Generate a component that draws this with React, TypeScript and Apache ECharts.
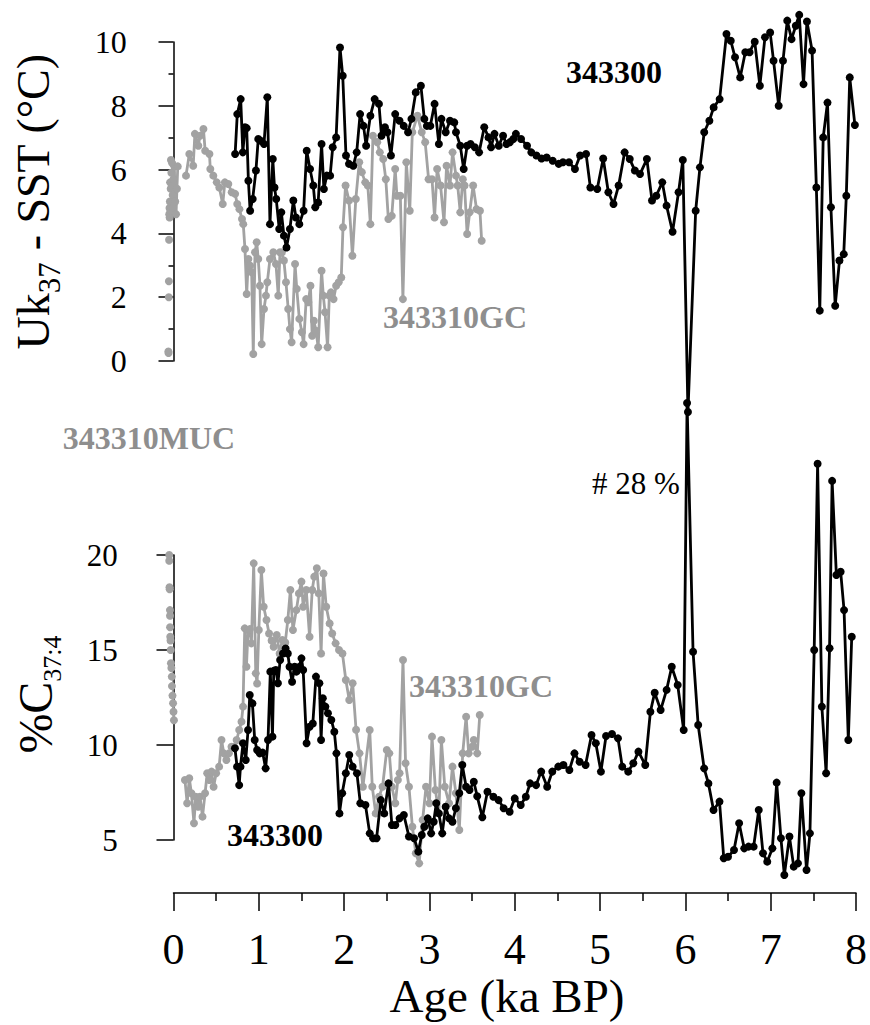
import React, { useEffect, useRef } from 'react';
import * as echarts from 'echarts';

const FONT = '"Liberation Serif", "Times New Roman", Times, serif';
const BLACK = '#000000';
const GRAY = '#a2a2a2';
const GRAY_TEXT = '#8e8e8e';

// Age (ka BP), value pairs
const sst343300: number[][] = [
  [0.72,6.49],[0.745,7.74],[0.785,8.21],[0.81,6.54],[0.835,7.33],[0.855,7.3],[0.875,5.65],[0.895,4.71],[0.925,5.08],[0.963,5.97],
  [0.99,6.96],[1.02,6.9],[1.057,6.8],[1.096,8.27],[1.127,4.29],[1.16,6.33],[1.18,5.44],[1.2,5.08],[1.235,4.14],[1.26,4.66],
  [1.29,3.93],[1.32,3.56],[1.36,4.14],[1.4,5.03],[1.43,4.5],[1.47,4.29],[1.52,4.71],[1.556,6.59],[1.595,6.02],[1.633,5.5],
  [1.656,4.82],[1.69,4.97],[1.73,6.8],[1.757,5.39],[1.79,5.81],[1.83,5.81],[1.86,6.7],[1.9,7.01],[1.945,9.83],[1.977,8.94],
  [2.015,6.44],[2.05,6.18],[2.1,6.12],[2.14,6.54],[2.18,7.74],[2.22,7.37],[2.25,6.75],[2.3,7.69],[2.35,8.21],[2.4,8.06],
  [2.43,7.06],[2.47,7.33],[2.5,7.17],[2.54,6.44],[2.59,7.74],[2.64,7.53],[2.69,7.37],[2.74,7.17],[2.78,7.59],[2.83,8.42],
  [2.89,8.63],[2.93,7.59],[2.96,7.37],[3.0,7.37],[3.05,8.06],[3.1,6.8],[3.13,7.59],[3.18,7.17],[3.23,7.53],[3.28,7.48],
  [3.3,7.17],[3.35,6.75],[3.39,6.02],[3.43,6.75],[3.47,6.8],[3.52,6.7],[3.57,6.54],[3.63,7.33],[3.68,7.01],[3.71,6.7],
  [3.75,7.12],[3.8,6.75],[3.85,7.06],[3.89,6.8],[3.93,6.86],[3.97,6.96],[4.0,7.12],[4.06,6.96],[4.13,6.75],[4.18,6.54],
  [4.24,6.44],[4.3,6.35],[4.36,6.38],[4.43,6.28],[4.5,6.18],[4.55,6.23],[4.62,6.23],[4.69,6.02],[4.75,6.44],[4.82,6.49],
  [4.87,5.44],[4.95,5.39],[5.02,6.35],[5.08,5.29],[5.14,4.92],[5.2,5.5],[5.27,6.54],[5.33,6.33],[5.39,5.97],[5.45,5.86],
  [5.53,6.33],[5.59,5.03],[5.64,5.18],[5.71,5.6],[5.76,4.87],[5.83,4.05],[5.9,5.29],[5.95,6.3],[6.01,-1.6],[6.1,4.71],
  [6.15,6.07],[6.2,7.17],[6.26,7.53],[6.31,7.95],[6.38,8.21],[6.46,10.25],[6.51,10.04],[6.56,9.52],[6.62,8.89],[6.68,9.68],
  [6.73,9.68],[6.79,10.01],[6.85,8.63],[6.91,10.15],[6.97,10.3],[7.01,9.41],[7.07,8.0],[7.12,9.41],[7.17,10.67],[7.22,10.09],
  [7.27,10.51],[7.31,10.85],[7.36,8.68],[7.4,10.64],[7.46,9.73],[7.51,5.44],[7.55,1.58],[7.59,7.01],[7.64,8.1],[7.68,4.82],
  [7.73,1.73],[7.78,3.15],[7.83,3.35],[7.86,5.18],[7.9,8.89],[7.96,7.4]
];

const sst343310GC: number[][] = [
  [0.146,5.81],[0.185,6.49],[0.23,6.12],[0.25,7.12],[0.29,6.75],[0.31,7.06],[0.35,7.27],[0.37,6.59],[0.42,6.49],[0.43,6.02],
  [0.465,5.81],[0.505,5.6],[0.535,5.44],[0.575,4.92],[0.6,5.6],[0.64,5.55],[0.68,5.29],[0.72,5.24],[0.745,4.92],[0.77,4.76],
  [0.8,4.45],[0.815,4.29],[0.835,3.51],[0.855,2.1],[0.875,3.2],[0.895,2.99],[0.913,2.78],[0.932,0.22],[0.952,3.41],[0.972,3.72],
  [0.99,3.2],[1.01,2.36],[1.03,0.53],[1.057,1.63],[1.08,2.05],[1.096,2.47],[1.127,3.2],[1.166,3.41],[1.197,3.04],[1.224,2.05],
  [1.244,3.41],[1.265,3.4],[1.29,3.15],[1.314,2.47],[1.34,1.63],[1.36,1.0],[1.38,0.59],[1.42,3.04],[1.44,2.26],[1.47,1.32],
  [1.5,0.9],[1.52,0.53],[1.55,1.94],[1.575,1.84],[1.6,2.36],[1.62,0.79],[1.64,1.26],[1.665,0.95],[1.69,0.43],[1.73,2.83],
  [1.75,2.05],[1.77,1.53],[1.8,0.43],[1.82,2.05],[1.84,2.15],[1.87,1.94],[1.9,2.36],[1.93,2.47],[1.96,2.62],[1.98,4.19],
  [2.01,5.5],[2.05,5.03],[2.09,3.3],[2.13,5.08],[2.17,6.23],[2.2,5.92],[2.24,5.6],[2.27,5.5],[2.3,4.29],[2.33,7.06],
  [2.38,6.86],[2.41,6.54],[2.45,6.33],[2.48,5.7],[2.51,4.45],[2.55,4.55],[2.59,6.02],[2.61,5.18],[2.65,5.18],[2.68,1.94],
  [2.72,6.23],[2.76,4.71],[2.79,7.17],[2.85,7.69],[2.9,7.17],[2.94,6.86],[2.98,5.7],[3.02,5.7],[3.05,4.5],[3.08,6.02],
  [3.12,5.5],[3.16,4.35],[3.19,6.12],[3.23,5.5],[3.26,6.54],[3.3,5.81],[3.32,5.5],[3.35,4.66],[3.38,5.7],[3.4,5.5],
  [3.43,3.98],[3.46,4.66],[3.5,5.5],[3.54,4.76],[3.58,4.71],[3.6,3.77]
];

const sst343310MUC: number[][] = [
  [-0.06,0.3],[-0.058,0.25],[-0.055,2.0],[-0.054,2.5],[-0.052,3.8],[-0.05,4.6],[-0.047,4.8],[-0.045,4.5],[-0.042,5.0],[-0.04,5.6],
  [-0.037,4.7],[-0.033,5.4],[-0.03,6.3],[-0.025,5.9],[-0.02,5.5],[-0.015,6.2],[-0.01,5.2],[-0.005,4.8],[0.0,5.7],[0.01,6.1],
  [0.02,5.0],[0.03,4.6],[0.04,5.4],[0.05,6.1]
];

const c374_343300: number[][] = [
  [0.72,9.83],[0.745,8.86],[0.77,7.89],[0.785,8.86],[0.815,10.09],[0.847,9.21],[0.874,10.79],[0.894,12.63],[0.925,12.19],[0.952,10.26],
  [0.98,9.74],[1.01,9.56],[1.045,9.6],[1.08,8.77],[1.108,10.26],[1.135,13.86],[1.16,10.44],[1.175,13.9],[1.2,13.95],[1.224,13.25],
  [1.25,14.47],[1.283,14.82],[1.314,15.08],[1.34,14.82],[1.36,14.12],[1.39,13.33],[1.42,14.12],[1.44,13.86],[1.47,14.1],[1.5,14.56],
  [1.52,13.95],[1.56,10.09],[1.595,10.96],[1.633,11.13],[1.67,13.6],[1.71,13.25],[1.73,10.26],[1.75,12.46],[1.78,12.02],[1.81,11.67],
  [1.85,11.32],[1.885,10.7],[1.91,9.56],[1.945,6.4],[1.977,7.46],[2.02,8.51],[2.06,9.47],[2.1,8.86],[2.15,8.51],[2.19,6.93],
  [2.25,6.84],[2.3,5.35],[2.34,5.09],[2.38,5.09],[2.43,7.1],[2.47,6.4],[2.52,7.98],[2.56,5.79],[2.6,5.79],[2.65,6.14],
  [2.7,6.32],[2.76,5.18],[2.82,5.09],[2.87,4.39],[2.91,5.26],[2.94,5.7],[2.98,6.14],[3.02,5.35],[3.05,5.96],[3.08,6.93],
  [3.11,6.4],[3.15,5.35],[3.19,6.75],[3.23,6.14],[3.27,5.96],[3.31,6.67],[3.35,7.46],[3.385,8.95],[3.43,7.8],[3.47,7.63],
  [3.52,8.07],[3.56,7.3],[3.62,6.2],[3.68,7.54],[3.75,7.28],[3.81,7.1],[3.87,6.67],[3.94,6.49],[4.0,7.19],[4.07,6.84],
  [4.13,7.28],[4.18,7.98],[4.25,7.89],[4.31,8.6],[4.38,7.8],[4.44,8.6],[4.51,8.86],[4.57,8.95],[4.64,8.68],[4.7,9.56],
  [4.76,9.12],[4.83,8.95],[4.9,10.53],[4.95,10.09],[5.01,8.6],[5.07,10.47],[5.14,10.58],[5.21,10.35],[5.26,8.86],[5.33,8.6],
  [5.39,9.04],[5.45,9.65],[5.53,8.95],[5.59,11.75],[5.64,12.75],[5.71,11.84],[5.78,12.9],[5.84,14.12],[5.91,13.16],[5.98,10.79],
  [6.02,28],[6.09,14.91],[6.15,11.05],[6.22,8.77],[6.27,7.98],[6.33,6.58],[6.4,7.02],[6.45,4.04],[6.5,4.12],[6.57,4.47],
  [6.63,5.88],[6.69,4.56],[6.74,4.65],[6.8,4.65],[6.86,6.58],[6.91,4.3],[6.96,3.86],[7.02,4.56],[7.07,8.02],[7.12,5.09],
  [7.16,3.16],[7.22,5.18],[7.27,3.6],[7.32,3.77],[7.36,7.46],[7.42,3.42],[7.46,5.35],[7.51,15.0],[7.55,24.8],[7.6,12.02],
  [7.65,8.51],[7.69,15.09],[7.72,23.9],[7.77,18.95],[7.82,19.12],[7.86,17.1],[7.91,10.26],[7.95,15.7]
];

const c374_343310GC: number[][] = [
  [0.134,8.16],[0.16,6.93],[0.185,8.25],[0.21,7.46],[0.24,5.88],[0.26,7.28],[0.29,6.75],[0.31,7.28],[0.34,6.23],[0.37,7.46],
  [0.395,8.51],[0.42,8.16],[0.446,8.6],[0.47,7.8],[0.5,8.51],[0.535,8.86],[0.563,10.26],[0.59,9.56],[0.62,9.21],[0.65,9.56],
  [0.68,9.91],[0.71,9.91],[0.74,10.26],[0.77,10.79],[0.797,11.23],[0.815,12.02],[0.835,16.14],[0.855,14.12],[0.874,16.05],[0.895,16.1],
  [0.913,15.35],[0.94,19.56],[0.964,13.77],[0.98,13.24],[1.0,16.05],[1.03,19.21],[1.057,17.28],[1.09,16.58],[1.12,15.87],[1.15,15.5],
  [1.174,15.17],[1.21,15.79],[1.244,14.82],[1.276,15.53],[1.31,15.4],[1.34,16.58],[1.37,18.16],[1.4,16.05],[1.44,17.1],[1.47,17.98],
  [1.5,18.6],[1.52,17.28],[1.556,18.16],[1.595,15.7],[1.626,18.16],[1.65,18.86],[1.68,19.3],[1.703,17.98],[1.73,14.82],[1.758,19.03],
  [1.79,17.28],[1.83,16.4],[1.86,15.87],[1.9,15.35],[1.94,15.0],[1.98,14.82],[2.02,13.42],[2.06,12.37],[2.1,13.25],[2.14,10.8],
  [2.18,9.56],[2.22,7.8],[2.3,10.79],[2.33,7.8],[2.37,6.4],[2.41,7.28],[2.45,7.8],[2.5,9.74],[2.53,9.56],[2.56,7.8],
  [2.6,6.93],[2.63,8.16],[2.65,8.51],[2.69,14.47],[2.72,9.04],[2.76,7.8],[2.8,5.7],[2.84,4.3],[2.88,3.77],[2.92,6.05],
  [2.96,7.8],[3.0,6.93],[3.03,10.44],[3.07,7.63],[3.11,6.4],[3.14,10.26],[3.18,7.8],[3.23,6.93],[3.27,8.86],[3.31,7.46],
  [3.35,5.53],[3.39,9.56],[3.43,11.49],[3.46,9.56],[3.5,9.91],[3.52,10.26],[3.56,9.56],[3.59,11.58]
];

const c374_343310MUC: number[][] = [
  [-0.05,20.0],[-0.05,19.7],[-0.047,18.3],[-0.045,18.2],[-0.042,17.1],[-0.041,16.8],[-0.04,16.2],[-0.038,15.7],[-0.035,15.5],[-0.033,15.0],
  [-0.03,14.3],[-0.025,14.05],[-0.02,13.6],[-0.018,13.1],[-0.012,12.6],[-0.005,12.2],[0.0,11.75],[0.005,11.3]
];

const sstTicks = { min: 0, max: 10, interval: 2 };
const c374Ticks = { min: 5, max: 20, interval: 5 };
const ageTicks = { min: 0, max: 8, interval: 1 };

const labels = [
  { text: '343300', x: 614, y: 72, color: BLACK, bold: true, size: 32 },
  { text: '343310GC', x: 455, y: 317, color: GRAY_TEXT, bold: true, size: 32 },
  { text: '343310MUC', x: 149, y: 438, color: GRAY_TEXT, bold: true, size: 32 },
  { text: '# 28 %', x: 636, y: 483, color: BLACK, bold: false, size: 31 },
  { text: '343310GC', x: 481, y: 686, color: GRAY_TEXT, bold: true, size: 32 },
  { text: '343300', x: 275, y: 835, color: BLACK, bold: true, size: 32 },
];

const GRID_LEFT = 173.5;
const GRID_WIDTH = 684.8;

function lineSeries(name: string, data: number[][], color: string, idx: number, z: number) {
  return {
    name,
    type: 'line',
    xAxisIndex: idx,
    yAxisIndex: idx,
    data,
    clip: false,
    symbol: 'circle',
    symbolSize: 8,
    showSymbol: true,
    showAllSymbol: true,
    z,
    lineStyle: { color, width: 2.8 },
    itemStyle: { color },
    emphasis: { disabled: true },
  };
}

export default function App() {
  const ref = useRef<HTMLDivElement>(null);
  useEffect(() => {
    if (!ref.current) return;
    const chart = echarts.init(ref.current, undefined, { renderer: 'svg' });
    const axisLine = { show: true, lineStyle: { color: BLACK, width: 1.5 } };
    const option: any = {
      animation: false,
      backgroundColor: '#ffffff',
      grid: [
        { left: GRID_LEFT, top: 42, width: GRID_WIDTH, height: 319 },
        { left: GRID_LEFT, top: 555, width: GRID_WIDTH, height: 285 },
      ],
      xAxis: [
        { type: 'value', gridIndex: 0, min: ageTicks.min, max: ageTicks.max, interval: ageTicks.interval, show: false },
        {
          type: 'value', gridIndex: 1, min: ageTicks.min, max: ageTicks.max, interval: ageTicks.interval,
          offset: 53,
          axisLine,
          axisTick: { show: true, length: 18, inside: false, lineStyle: { color: BLACK, width: 1.5 } },
          minorTick: { show: true, splitNumber: 2, length: 8, lineStyle: { color: BLACK, width: 1.5 } },
          axisLabel: { fontFamily: FONT, fontSize: 44, color: BLACK, margin: 34 },
          splitLine: { show: false },
        },
      ],
      yAxis: [
        {
          type: 'value', gridIndex: 0, min: sstTicks.min, max: sstTicks.max, interval: sstTicks.interval,
          offset: 21.8,
          axisLine,
          axisTick: { show: true, length: 15, lineStyle: { color: BLACK, width: 1.5 } },
          minorTick: { show: true, splitNumber: 2, length: 5, lineStyle: { color: BLACK, width: 1.5 } },
          axisLabel: { fontFamily: FONT, fontSize: 32, color: BLACK, margin: 25 },
          splitLine: { show: false },
          name: '{a|Uk}{s|37}{a| - SST (°C)}',
          nameLocation: 'middle',
          nameRotate: 90,
          nameGap: 114,
          nameTextStyle: {
            color: BLACK, align: 'center', verticalAlign: 'middle',
            rich: {
              a: { fontFamily: FONT, fontSize: 46, lineHeight: 54, verticalAlign: 'top', color: BLACK },
              s: { fontFamily: FONT, fontSize: 31, lineHeight: 54, verticalAlign: 'bottom', color: BLACK },
            },
          },
        },
        {
          type: 'value', gridIndex: 1, min: c374Ticks.min, max: c374Ticks.max, interval: c374Ticks.interval,
          offset: 26.8,
          axisLine,
          axisTick: { show: true, length: 17, lineStyle: { color: BLACK, width: 1.5 } },
          axisLabel: { fontFamily: FONT, fontSize: 31, color: BLACK, margin: 29 },
          splitLine: { show: false },
          name: '{a|%C}{s|37:4}',
          nameLocation: 'middle',
          nameRotate: 90,
          nameGap: 108,
          nameTextStyle: {
            color: BLACK, align: 'center', verticalAlign: 'middle', padding: [0, 0, 0, 6],
            rich: {
              a: { fontFamily: FONT, fontSize: 48, lineHeight: 54, verticalAlign: 'top', color: BLACK },
              s: { fontFamily: FONT, fontSize: 26, lineHeight: 54, verticalAlign: 'bottom', color: BLACK },
            },
          },
        },
      ],
      graphic: [
        ...labels.map((l) => ({
          type: 'text',
          x: l.x,
          y: l.y,
          z: 100,
          style: {
            text: l.text,
            fontFamily: FONT,
            fontSize: l.size,
            fontWeight: l.bold ? 'bold' : 'normal',
            fill: l.color,
            align: 'center',
            verticalAlign: 'middle',
            textAlign: 'center',
            textVerticalAlign: 'middle',
          },
        })),
        {
          type: 'text',
          x: 507,
          y: 996,
          style: {
            text: 'Age (ka BP)',
            fontFamily: FONT,
            fontSize: 47,
            fill: BLACK,
            align: 'center',
            verticalAlign: 'middle',
            textAlign: 'center',
            textVerticalAlign: 'middle',
          },
        },
      ],
      series: [
        lineSeries('343310MUC SST', sst343310MUC, GRAY, 0, 2),
        lineSeries('343310GC SST', sst343310GC, GRAY, 0, 2),
        lineSeries('343300 SST', sst343300, BLACK, 0, 3),
        lineSeries('343310MUC C37:4', c374_343310MUC, GRAY, 1, 2),
        lineSeries('343310GC C37:4', c374_343310GC, GRAY, 1, 2),
        lineSeries('343300 C37:4', c374_343300, BLACK, 1, 3),
      ],
    };
    chart.setOption(option);
    return () => chart.dispose();
  }, []);
  return (
    <div
      ref={ref}
      style={{ position: 'absolute', left: 0, top: 0, width: 870, height: 1025, background: '#fff' }}
    />
  );
}
